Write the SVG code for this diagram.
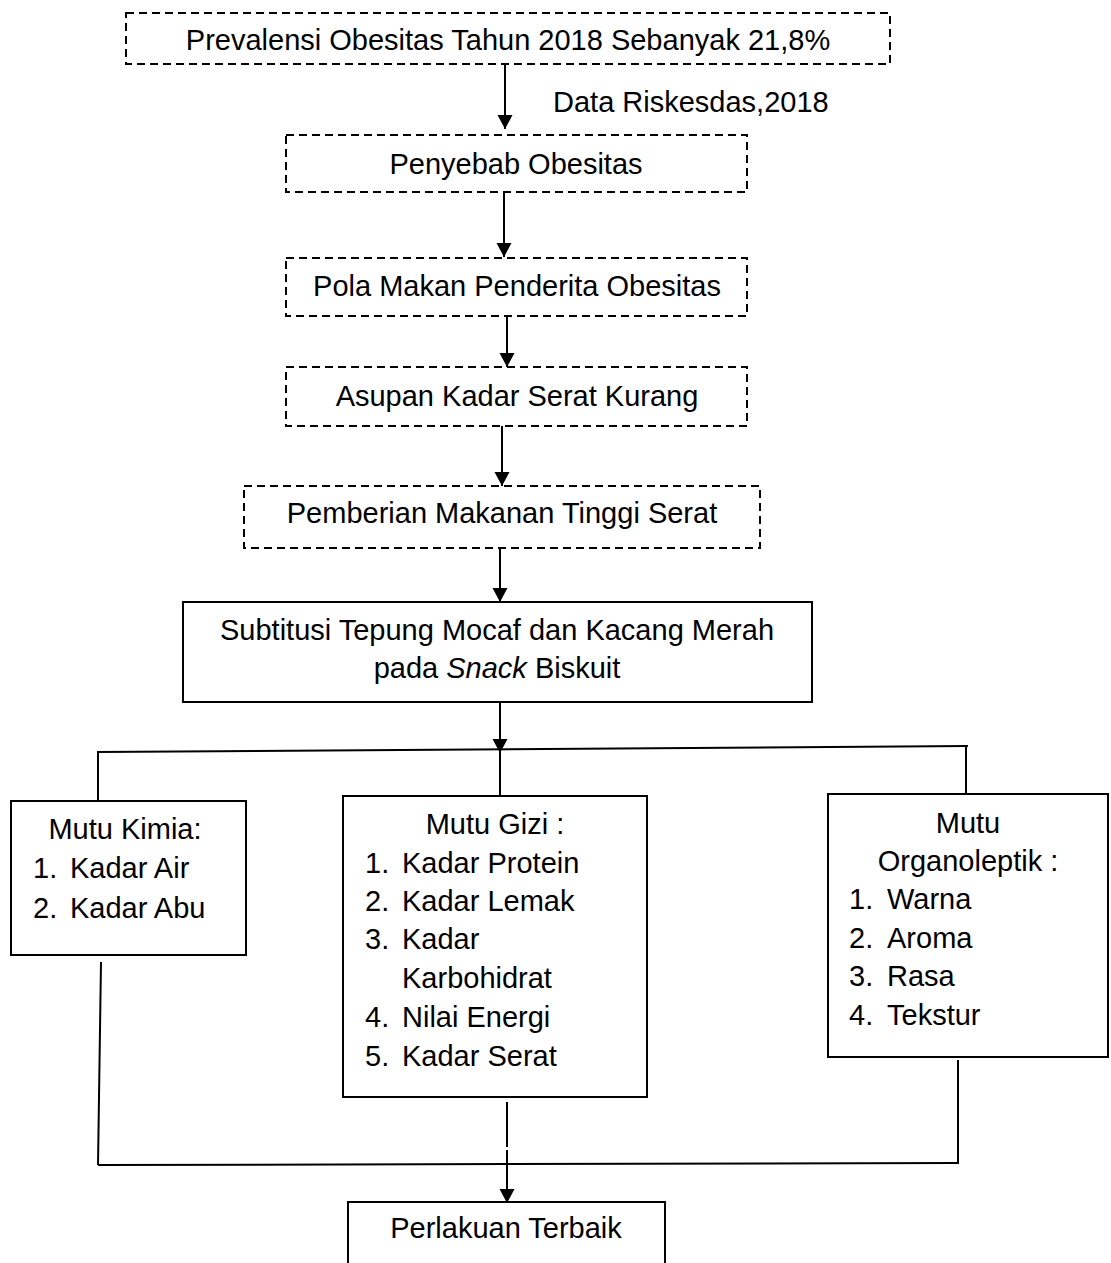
<svg xmlns="http://www.w3.org/2000/svg" width="1111" height="1263" viewBox="0 0 1111 1263">
<style>
text{font-family:"Liberation Sans",Arial,sans-serif;font-size:29px;fill:#000}
.c{text-anchor:middle}
.d{fill:#fff;stroke:#000;stroke-width:2;stroke-dasharray:8 5}
.s{fill:#fff;stroke:#000;stroke-width:2}
.l{fill:none;stroke:#000;stroke-width:2}
</style>
<defs>
<marker id="a" markerUnits="userSpaceOnUse" markerWidth="16" markerHeight="16" viewBox="0 0 16 16" refX="15" refY="8" orient="auto">
<path d="M1,0.5 L15,8 L1,15.5 Z" fill="#000"/>
</marker>
</defs>
<g id="connectors">
<line class="l" x1="505" y1="64" x2="505" y2="129" marker-end="url(#a)"/>
<line class="l" x1="504" y1="192" x2="504" y2="257" marker-end="url(#a)"/>
<line class="l" x1="507" y1="316" x2="507" y2="367" marker-end="url(#a)"/>
<line class="l" x1="502" y1="426" x2="502" y2="486" marker-end="url(#a)"/>
<line class="l" x1="500" y1="548" x2="500" y2="602" marker-end="url(#a)"/>
<line class="l" x1="500" y1="702" x2="500" y2="753" marker-end="url(#a)"/>
<line class="l" x1="98" y1="752" x2="968" y2="746"/>
<line class="l" x1="98" y1="751" x2="98" y2="801"/>
<line class="l" x1="500" y1="752" x2="500" y2="796"/>
<line class="l" x1="966" y1="746" x2="966" y2="794"/>
<line class="l" x1="101" y1="962" x2="98" y2="1165"/>
<line class="l" x1="958" y1="1060" x2="958" y2="1164"/>
<line class="l" x1="98" y1="1165" x2="958" y2="1163"/>
<line class="l" x1="507" y1="1102" x2="507" y2="1147"/>
<line class="l" x1="507" y1="1150" x2="507" y2="1203" marker-end="url(#a)"/>
</g>
<g id="label-data">
<text x="553" y="112">Data Riskesdas,2018</text>
</g>
<g id="n1">
<rect class="d" x="126" y="13" width="764" height="51"/>
<text class="c" x="508" y="50">Prevalensi Obesitas Tahun 2018 Sebanyak 21,8%</text>
</g>
<g id="n2">
<rect class="d" x="286" y="135" width="461" height="57"/>
<text class="c" x="516" y="174">Penyebab Obesitas</text>
</g>
<g id="n3">
<rect class="d" x="286" y="258" width="461" height="58"/>
<text class="c" x="517" y="296">Pola Makan Penderita Obesitas</text>
</g>
<g id="n4">
<rect class="d" x="286" y="367" width="461" height="59"/>
<text class="c" x="517" y="406">Asupan Kadar Serat Kurang</text>
</g>
<g id="n5">
<rect class="d" x="244" y="486" width="516" height="62"/>
<text class="c" x="502" y="523">Pemberian Makanan Tinggi Serat</text>
</g>
<g id="n6">
<rect class="s" x="183" y="602" width="629" height="100"/>
<text class="c" x="497" y="640">Subtitusi Tepung Mocaf dan Kacang Merah</text>
<text class="c" x="497" y="678">pada <tspan font-style="italic">Snack</tspan> Biskuit</text>
</g>
<g id="n7">
<rect class="s" x="11" y="801" width="235" height="154"/>
<text class="c" x="125" y="839">Mutu Kimia:</text>
<text x="33" y="878">1.</text><text x="70" y="878">Kadar Air</text>
<text x="33" y="918">2.</text><text x="70" y="918">Kadar Abu</text>
</g>
<g id="n8">
<rect class="s" x="343" y="796" width="304" height="301"/>
<text class="c" x="495" y="834">Mutu Gizi :</text>
<text x="365" y="873">1.</text><text x="402" y="873">Kadar Protein</text>
<text x="365" y="911">2.</text><text x="402" y="911">Kadar Lemak</text>
<text x="365" y="949">3.</text><text x="402" y="949">Kadar</text>
<text x="402" y="988">Karbohidrat</text>
<text x="365" y="1027">4.</text><text x="402" y="1027">Nilai Energi</text>
<text x="365" y="1066">5.</text><text x="402" y="1066">Kadar Serat</text>
</g>
<g id="n9">
<rect class="s" x="828" y="794" width="280" height="263"/>
<text class="c" x="968" y="833">Mutu</text>
<text class="c" x="968" y="871">Organoleptik :</text>
<text x="849" y="909">1.</text><text x="887" y="909">Warna</text>
<text x="849" y="948">2.</text><text x="887" y="948">Aroma</text>
<text x="849" y="986">3.</text><text x="887" y="986">Rasa</text>
<text x="849" y="1025">4.</text><text x="887" y="1025">Tekstur</text>
</g>
<g id="n10">
<rect class="s" x="348" y="1202" width="317" height="80"/>
<text class="c" x="506" y="1238">Perlakuan Terbaik</text>
</g>
</svg>
